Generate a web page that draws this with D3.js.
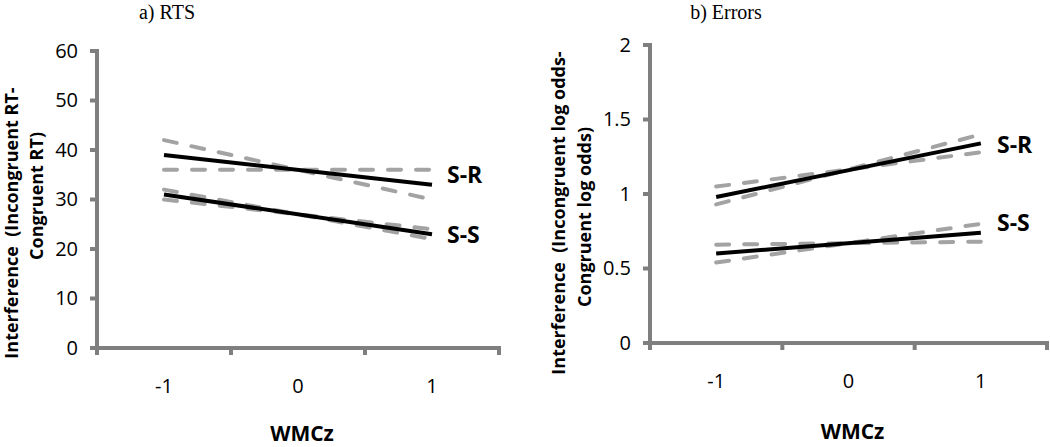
<!DOCTYPE html>
<meta charset="utf-8">
<script src="https://d3js.org/d3.v7.min.js"></script>
<style>
  body { margin: 0; background: #fff; }
  text { font-family: "Open Sans", sans-serif; }
</style>
<div id="chart"></div>
<script>

// categories on the x axis
var wmcCats = ["-1", "0", "1"];
var lineEnds = ["-1", "1"];

// tick values
var rtTicks = [0, 10, 20, 30, 40, 50, 60];
var errTicks = [0, 0.5, 1, 1.5, 2];

// a) RTs: fitted line + confidence band lines (values at WMCz = -1 and 1)
var rtSR = [39, 33];
var rtSRhi = [42, 30];
var rtSRlo = [36, 36];
var rtSS = [31, 23];
var rtSShi = [32, 22];
var rtSSlo = [30, 24];

// b) Errors
var errSR = [0.98, 1.34];
var errSRhi = [1.05, 1.28];
var errSRlo = [0.93, 1.40];
var errSS = [0.60, 0.74];
var errSShi = [0.66, 0.68];
var errSSlo = [0.54, 0.80];

var svg = d3.select("#chart").append("svg")
    .attr("width", 1050)
    .attr("height", 447);

var axisGrey = "#7f7f7f",
    dashGrey = "#a3a3a3";

function drawPanel(p) {
    var g = svg.append("g");

    var x = d3.scaleBand()
        .domain(wmcCats)
        .range([p.left, p.right]);

    var y = d3.scaleLinear()
        .domain([0, p.yMax])
        .range([p.bottom, p.top]);

    // y axis labels
    g.append("g")
        .attr("transform", "translate(" + p.left + ",0)")
        .call(d3.axisLeft(y).tickValues(p.ticks).tickSize(0).tickPadding(19).tickFormat(d3.format("")))
        .call(function(a) { a.select(".domain").remove(); })
        .selectAll("text")
        .style("font-family", "Open Sans")
        .style("font-size", "20px")
        .attr("fill", "#000");

    // y tick marks
    g.selectAll(".ytick").data(p.ticks).enter().append("line")
        .attr("x1", p.left - 7).attr("x2", p.left)
        .attr("y1", function(d) { return y(d); })
        .attr("y2", function(d) { return y(d); })
        .attr("stroke", axisGrey).attr("stroke-width", 4);

    // x axis labels
    g.append("g")
        .attr("transform", "translate(0," + p.bottom + ")")
        .call(d3.axisBottom(x).tickSize(0).tickPadding(31))
        .call(function(a) { a.select(".domain").remove(); })
        .selectAll("text")
        .style("font-family", "Open Sans")
        .style("font-size", "20px")
        .attr("fill", "#000");

    // x tick marks at band edges
    var edges = wmcCats.map(function(c) { return x(c); }).concat([x.range()[1]]);
    g.selectAll(".xtick").data(edges).enter().append("line")
        .attr("x1", function(d) { return d; }).attr("x2", function(d) { return d; })
        .attr("y1", p.bottom).attr("y2", p.bottom + 7)
        .attr("stroke", axisGrey).attr("stroke-width", 4);

    // axis lines
    g.append("line")
        .attr("x1", p.left).attr("x2", p.left)
        .attr("y1", y(p.yMax) - 2).attr("y2", p.bottom)
        .attr("stroke", axisGrey).attr("stroke-width", 4);
    g.append("line")
        .attr("x1", p.left - 7).attr("x2", p.right + 2)
        .attr("y1", p.bottom).attr("y2", p.bottom)
        .attr("stroke", axisGrey).attr("stroke-width", 4);

    var line = d3.line()
        .x(function(d, i) { return x(lineEnds[i]) + x.bandwidth() / 2; })
        .y(function(d) { return y(d); });

    // dashed confidence lines
    p.dashed.forEach(function(s) {
        g.append("path")
            .attr("d", line(s))
            .attr("fill", "none")
            .attr("stroke", dashGrey)
            .attr("stroke-width", 4)
            .attr("stroke-linecap", "round")
            .attr("stroke-dasharray", "13 15");
    });

    // solid fitted lines
    p.solid.forEach(function(s) {
        g.append("path")
            .attr("d", line(s))
            .attr("fill", "none")
            .attr("stroke", "#000")
            .attr("stroke-width", 4);
    });

    // series labels
    p.labels.forEach(function(l) {
        g.append("text")
            .attr("x", l.x).attr("y", l.y)
            .style("font-size", "23px")
            .style("font-weight", "bold")
            .text(l.text);
    });

    // panel title
    g.append("text")
        .attr("x", p.titleX).attr("y", 19)
        .attr("text-anchor", "middle")
        .style("font-family", "Liberation Serif, serif")
        .style("font-size", "20px")
        .text(p.title);

    // x axis title
    g.append("text")
        .attr("x", (p.left + p.right) / 2 + 4).attr("y", p.xTitleY)
        .attr("text-anchor", "middle")
        .style("font-size", "21px")
        .style("font-weight", "bold")
        .text("WMCz");

    // y axis title (two lines)
    p.yTitle.forEach(function(t) {
        g.append("text")
            .attr("transform", "translate(" + t.x + "," + t.cy + ") rotate(-90)")
            .attr("text-anchor", "middle")
            .style("font-size", "18px")
            .style("font-weight", "bold")
            .style("white-space", "pre")
            .text(t.text);
    });
}

drawPanel({
    left: 97, right: 499, top: 51, bottom: 348, yMax: 60, ticks: rtTicks,
    dashed: [rtSRhi, rtSRlo, rtSShi, rtSSlo],
    solid: [rtSR, rtSS],
    labels: [{text: "S-R", x: 447, y: 183}, {text: "S-S", x: 447, y: 243}],
    title: "a) RTS", titleX: 167, xTitleY: 441,
    yTitle: [
        {text: "Interference  (Incongruent RT-", x: 18, cy: 223},
        {text: "Congruent RT)", x: 43, cy: 196}
    ]
});

drawPanel({
    left: 650, right: 1047, top: 45, bottom: 343, yMax: 2, ticks: errTicks,
    dashed: [errSRhi, errSRlo, errSShi, errSSlo],
    solid: [errSR, errSS],
    labels: [{text: "S-R", x: 997, y: 153}, {text: "S-S", x: 997, y: 231}],
    title: "b) Errors", titleX: 726, xTitleY: 439,
    yTitle: [
        {text: "Interference  (Incongruent log odds-", x: 565, cy: 213},
        {text: "Congruent log odds)", x: 591, cy: 217}
    ]
});

</script>
